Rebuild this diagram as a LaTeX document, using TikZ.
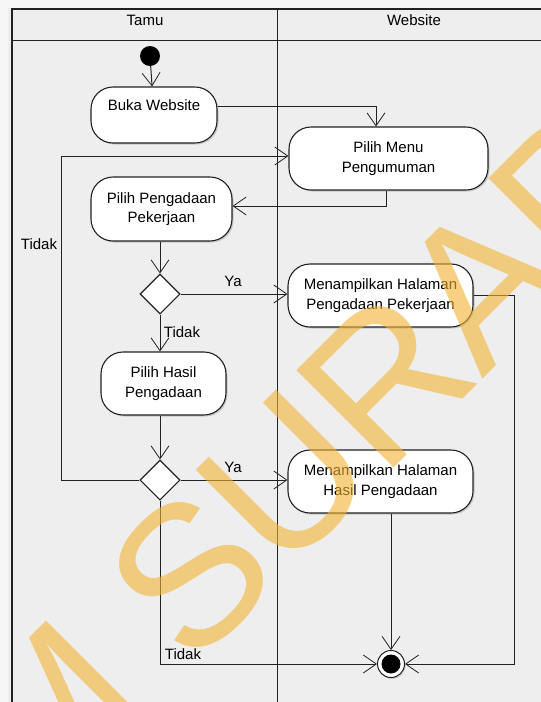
\documentclass[tikz,border=0pt]{standalone}
\usepackage{fontspec}
\setmainfont{Liberation Sans}
\usetikzlibrary{arrows.meta,shapes.geometric,shadows,calc}
\definecolor{bg}{HTML}{EEEEEE}
\definecolor{marg}{HTML}{F6F6F6}
\definecolor{ln}{HTML}{222222}
\definecolor{wm}{HTML}{F2B233}
\begin{document}
\begin{tikzpicture}[x=1pt,y=-1pt,
  every node/.style={font=\fontsize{15}{19.5}\selectfont, text=black},
  act/.style={draw=ln, line width=1.1pt, fill=white, rounded corners=22pt, align=center, inner sep=0pt,
    drop shadow={shadow xshift=1.5pt, shadow yshift=-1.5pt, opacity=0.35}},
  dec/.style={diamond, draw=ln, line width=1.1pt, fill=white, minimum width=40pt, minimum height=40pt, inner sep=0pt},
  arr/.style={draw=ln, line width=1pt, -{Straight Barb[length=13pt,width=18pt,line width=0.8pt]}},
  lbl/.style={inner sep=0pt, anchor=base},
  wmtext/.style={rotate=45, inner sep=0pt, anchor=center, font=\fontsize{200}{200}\selectfont, text=wm, text opacity=0.6}
]
% background and bounding box
\fill[marg] (0,0) rectangle (541,702);
\fill[bg] (8,8) rectangle (541,702);
\useasboundingbox (0,0) rectangle (541,702);

% swimlane frame
\draw[ln, line width=1.5pt] (541,9) -- (12,9) -- (12,702);
\draw[ln, line width=1pt] (12,40) -- (541,40);
\draw[ln, line width=1pt] (277,9) -- (277,702);
\node[lbl] (tamu) at (145,25) {Tamu};
\node[lbl] (web) at (414,25) {Website};

% nodes
\node[circle, fill=black, minimum size=20pt, inner sep=0pt] (start) at (150,56) {};
\node[act, minimum width=126pt, minimum height=56pt] (buka) at (154,115) {Buka Website\\\mbox{}};
\node[act, minimum width=199pt, minimum height=63pt] (menu) at (388.5,158.5) {Pilih Menu\\Pengumuman};
\node[act, minimum width=141pt, minimum height=64pt] (peng) at (161.5,209) {Pilih Pengadaan\\Pekerjaan};
\node[dec] (d1) at (160,294) {};
\node[act, minimum width=185pt, minimum height=63pt] (mpp) at (380.5,295.5) {Menampilkan Halaman\\Pengadaan Pekerjaan};
\node[act, minimum width=125pt, minimum height=63pt] (hasil) at (163.5,383.5) {Pilih Hasil\\Pengadaan};
\node[dec] (d2) at (160,480) {};
\node[act, minimum width=185pt, minimum height=63pt] (mph) at (380.5,481.5) {Menampilkan Halaman\\Hasil Pengadaan};
\node[circle, draw=ln, line width=1pt, fill=white, minimum size=27pt, inner sep=0pt,
  drop shadow={shadow xshift=1pt, shadow yshift=-1.5pt, opacity=0.35}] (fin) at (391,664) {};
\node[circle, fill=black, minimum size=19pt, inner sep=0pt] (finin) at (fin) {};

\coordinate (lx) at (61,0);
\coordinate (rx) at (514,0);

% connectors
\draw[arr] (start) -- (buka);
\draw[arr] ($(buka.east)+(0,-9)$) -| ($(menu.north)+(-12.5,0)$);
\draw[arr] ($(menu.south)+(-2,0)$) |- ($(peng.east)+(0,-3)$);
\draw[arr] (peng.south -| d1.north) -- (d1.north);
\draw[arr] (d1.east) -- (d1.east -| mpp.west);
\draw[arr] (d1.south) -- (d1.south |- hasil.north);
\draw[arr] (hasil.south -| d2.north) -- (d2.north);
\draw[arr] (d2.east) -- (d2.east -| mph.west);
\draw[arr] (d2.west) -- (d2.west -| lx) |- ($(menu.west)+(0,-2.5)$);
\draw[arr] (d2.south) |- (fin.west);
\draw[arr] (mph.south -| fin.north) -- (fin.north);
\draw[arr] (mpp.east) -- (mpp.east -| rx) |- (fin.east);

% labels
\node[lbl] (t1) at (39,249) {Tidak};
\node[lbl] (y1) at (233,286) {Ya};
\node[lbl] (t2) at (182,337) {Tidak};
\node[lbl] (y2) at (233,472) {Ya};
\node[lbl] (t3) at (183,659) {Tidak};

% watermark (only the letters that show)
\begin{scope}
\clip (0,0) rectangle (541,702);
\node[wmtext] (wmM) at (48,717) {M};
\node[wmtext] (wmS) at (190,575) {S};
\node[wmtext] (wmU) at (286,479) {U};
\node[wmtext] (wmR) at (385,380) {R};
\node[wmtext] (wmA) at (481,284) {A};
\node[wmtext] (wmB) at (573,192) {B};
\end{scope}
\end{tikzpicture}
\end{document}
